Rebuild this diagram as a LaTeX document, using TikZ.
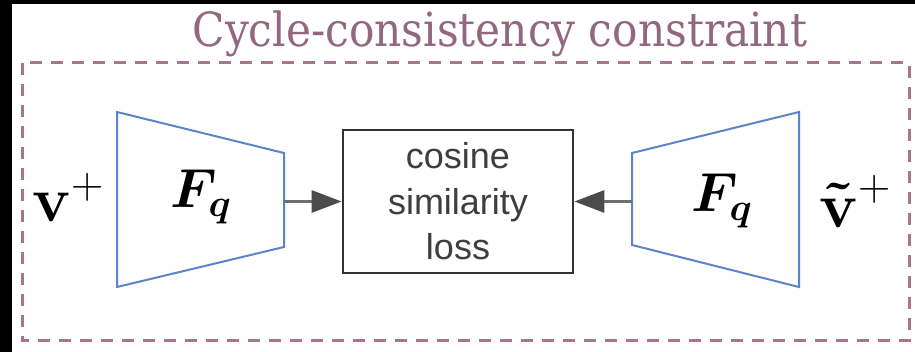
\RequirePackage{fix-cm}
\documentclass[tikz,border=0pt]{standalone}
\usepackage[no-math]{fontspec}
\usepackage{bm}
\setmainfont{Liberation Sans}
\newfontfamily\titlefont{DejaVu Serif Condensed}
\usetikzlibrary{arrows.meta}

\definecolor{mauve}{RGB}{146,104,128}
\definecolor{framecol}{RGB}{165,118,142}
\definecolor{encblue}{RGB}{92,132,200}
\definecolor{boxedge}{RGB}{50,50,50}
\definecolor{boxtext}{RGB}{62,62,62}
\definecolor{arrline}{RGB}{110,110,110}
\definecolor{arrtip}{RGB}{75,75,75}

\tikzset{
  framebox/.style={draw=framecol, line width=3pt, dash pattern=on 12pt off 9pt},
  encoder/.style={draw=encblue, line width=2pt, line join=miter},
  lossbox/.style={draw=boxedge, line width=2.8pt, fill=white, minimum width=230pt,
    minimum height=143pt, inner sep=0pt, align=center, text=boxtext,
    font=\fontsize{36}{45.5}\selectfont},
  feed/.style={draw=arrline, line width=3pt,
    -{Triangle[length=30pt,width=22pt,color=arrtip,fill=arrtip]}},
  mathlabel/.style={inner sep=0pt, anchor=base},
  inputlabel/.style={inner sep=0pt, anchor=base west, font=\fontsize{64}{76}\selectfont},
}

\begin{document}
\begin{tikzpicture}[x=1pt,y=-1pt]
  \useasboundingbox (0,0) rectangle (915,352);
  \fill[white] (0,0) rectangle (915,352);
  \fill[black] (0,0) rectangle (915,4);
  \fill[black] (0,0) rectangle (12,352);

  % outer constraint frame and its caption
  \draw[framebox] (22,63) rectangle (909,341);
  \node[inner sep=0pt, anchor=base, text=mauve,
        font=\titlefont\fontsize{47}{56}\selectfont] (title) at (500,47)
        {Cycle-consistency constraint};

  % left encoder (narrowing to the right)
  \coordinate (l1) at (117,112);
  \coordinate (l2) at (284,153);
  \coordinate (l3) at (284,247);
  \coordinate (l4) at (117,287);
  \draw[encoder] (l1) -- (l2) -- (l3) -- (l4) -- cycle;
  \coordinate (encLout) at (284,201.5);
  \node[mathlabel, font=\fontsize{55}{66}\selectfont] (fqL) at (201,208) {$\bm{F_q}$};

  % right encoder (narrowing to the left)
  \coordinate (r1) at (632,153);
  \coordinate (r2) at (799,112);
  \coordinate (r3) at (799,287);
  \coordinate (r4) at (632,245);
  \draw[encoder] (r1) -- (r2) -- (r3) -- (r4) -- cycle;
  \coordinate (encRout) at (632,201.5);
  \node[mathlabel, font=\fontsize{55}{66}\selectfont] (fqR) at (722,212) {$\bm{F_q}$};

  % inputs
  \node[inputlabel] (vin) at (32,222) {$\bm{\mathbf{v}}^{+}$};
  \node[inputlabel] (vtin) at (819,228) {$\bm{\tilde{\mathbf{v}}}^{+}$};

  % loss box
  \node[lossbox] (loss) at (458,201.5) {cosine\\similarity\\loss};

  % feeds into the loss
  \draw[feed] (encLout) -- (loss.west);
  \draw[feed] (encRout) -- (loss.east);
\end{tikzpicture}
\end{document}
